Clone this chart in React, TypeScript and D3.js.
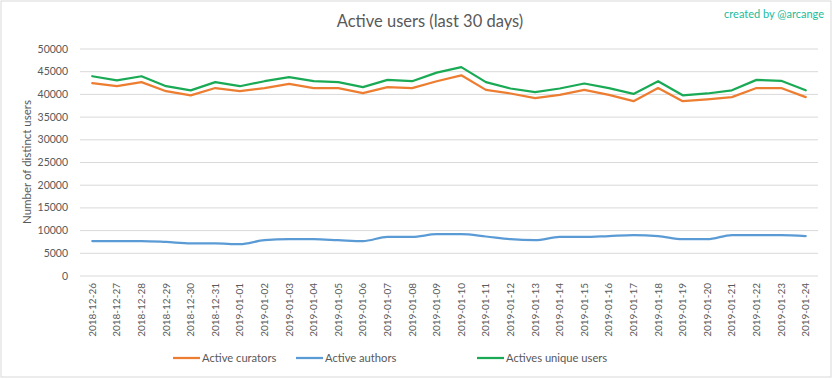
import React from "react";
import * as d3 from "d3";

const dates = [
  "2018-12-26","2018-12-27","2018-12-28","2018-12-29","2018-12-30","2018-12-31",
  "2019-01-01","2019-01-02","2019-01-03","2019-01-04","2019-01-05","2019-01-06",
  "2019-01-07","2019-01-08","2019-01-09","2019-01-10","2019-01-11","2019-01-12",
  "2019-01-13","2019-01-14","2019-01-15","2019-01-16","2019-01-17","2019-01-18",
  "2019-01-19","2019-01-20","2019-01-21","2019-01-22","2019-01-23","2019-01-24",
];
const curators = [
  42500,41800,42700,40700,39800,41400,40700,41400,42300,41400,41400,40300,
  41600,41400,42900,44200,41000,40200,39200,39900,41000,39900,38500,41400,
  38500,38900,39400,41400,41400,39400,
];
const authors = [
  7700,7700,7700,7500,7200,7200,7000,7900,8100,8100,7900,7700,
  8600,8600,9200,9200,8700,8100,7900,8600,8600,8800,9000,8800,
  8100,8100,9000,9000,9000,8800,
];
const uniques = [
  44000,43100,44000,41800,40900,42700,41800,42900,43800,42900,42700,41600,
  43200,42900,44800,46000,42700,41300,40500,41300,42400,41400,40100,42900,
  39800,40200,40900,43200,43000,40900,
];
const yTicks = [0,5000,10000,15000,20000,25000,30000,35000,40000,45000,50000];

const series = [
  { name: "Active curators", values: curators, color: "#ED7D31", curve: d3.curveLinear },
  { name: "Active authors", values: authors, color: "#5B9BD5", curve: d3.curveMonotoneX },
  { name: "Actives unique users", values: uniques, color: "#1AAA55", curve: d3.curveLinear },
];

const W = 833, H = 379;
const font = "Lato, 'Open Sans', sans-serif";

export default function App() {
  const x = d3.scaleBand<string>().domain(dates).range([80, 818]);
  const y = d3.scaleLinear().domain([0, 50000]).range([276, 49]);
  const cx = (d: string) => (x(d) as number) + x.bandwidth() / 2;

  const legendX = [173, 296, 477];

  return (
    <svg width={W} height={H} style={{ position: "absolute", left: 0, top: 0, background: "#fff" }}>
      <rect x={1} y={1} width={W - 3} height={H - 3} fill="#fff" stroke="#D9D9D9" strokeWidth={1} />
      <text x={430} y={27} textAnchor="middle" fontFamily={font} fontSize={16.5} fill="#595959">
        Active users (last 30 days)
      </text>
      <text x={824} y={18} textAnchor="end" fontFamily={font} fontSize={11} fill="#1ABC9C">
        created by @arcange
      </text>
      {yTicks.map((t) => (
        <g key={t}>
          <line x1={80} x2={818} y1={y(t)} y2={y(t)} stroke="#D9D9D9" strokeWidth={1} />
          <text x={68} y={y(t) + 3.5} textAnchor="end" fontFamily={font} fontSize={10.5} fill="#595959">
            {t}
          </text>
        </g>
      ))}
      <text
        transform={`translate(31,162) rotate(-90)`}
        textAnchor="middle"
        fontFamily={font}
        fontSize={11.5}
        fill="#595959"
      >
        Number of distinct users
      </text>
      {dates.map((d) => (
        <text
          key={d}
          transform={`translate(${cx(d) + 3.5},283) rotate(-90)`}
          textAnchor="end"
          fontFamily={font}
          fontSize={10}
          fill="#595959"
        >
          {d}
        </text>
      ))}
      {series.map((s) => {
        const line = d3
          .line<number>()
          .x((_, i) => cx(dates[i]))
          .y((v) => y(v))
          .curve(s.curve);
        return (
          <path key={s.name} d={line(s.values) || ""} fill="none" stroke={s.color} strokeWidth={2.25} strokeLinejoin="round" strokeLinecap="round" />
        );
      })}
      {series.map((s, i) => (
        <g key={s.name}>
          <line x1={legendX[i]} x2={legendX[i] + 27} y1={358} y2={358} stroke={s.color} strokeWidth={2.25} />
          <text x={legendX[i] + 29} y={361.5} fontFamily={font} fontSize={11.2} fill="#595959">
            {s.name}
          </text>
        </g>
      ))}
    </svg>
  );
}
